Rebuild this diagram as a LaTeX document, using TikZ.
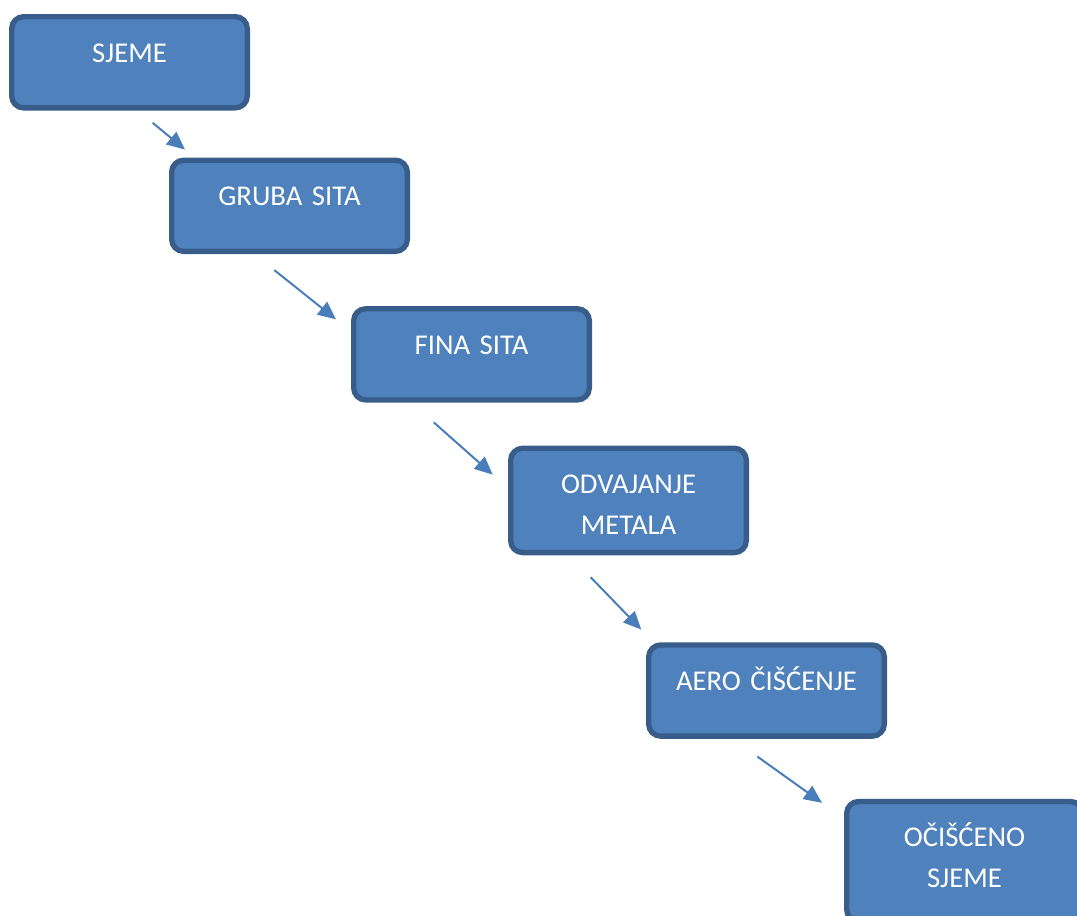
\documentclass[tikz,border=0pt]{standalone}
\usepackage{fontspec}
\setmainfont{Carlito}
\usetikzlibrary{positioning,arrows.meta}
\definecolor{boxfill}{HTML}{4F81BD}
\definecolor{boxline}{HTML}{385D8A}
\definecolor{flowline}{HTML}{4A7EBB}
\tikzstyle{flowarrow} = [line width=1.5pt, draw=flowline, -{Triangle[length=13.5pt,width=12pt]}]

\begin{document}
\begin{tikzpicture}[x=0.75pt, y=-0.75pt, stage/.style={draw=boxline, fill=boxfill, line width=4pt, rounded corners=9pt, text=white, font=\fontsize{21.5}{30.75}\selectfont, align=center, text width=176.75pt, inner sep=0pt, text height=34pt, text depth=34.4pt}]
        \useasboundingbox (0,0) rectangle (1077,915);
        % koraci
        \node[stage, anchor=north west] (sjeme) at (9,14) {SJEME};
        \node[stage, below right=35.25pt and -60.75pt of sjeme] (gruba) {GRUBA SITA};
        \node[stage, below right=39pt and -44.25pt of gruba] (fina) {FINA SITA};
        \node[stage, text depth=44.25pt, below right=32.25pt and -63pt of fina] (metal) {ODVAJANJE\\METALA};
        \node[stage, below right=65.25pt and -77.25pt of metal] (aero) {AERO ČIŠĆENJE};
        \node[stage, text depth=56pt, below right=45pt and -32.25pt of aero] (ocisceno) {OČIŠĆENO\\SJEME};

        % krajevi strelica
        \coordinate (a1s) at ([shift={(143.7,12.3)}]sjeme.south west);
        \coordinate (a1e) at ([shift={(16,-8)}]gruba.north west);
        \coordinate (a2s) at ([shift={(105.3,16)}]gruba.south west);
        \coordinate (a2e) at ([shift={(-15,13.3)}]fina.north west);
        \coordinate (a3s) at ([shift={(82.7,19.7)}]fina.south west);
        \coordinate (a3e) at ([shift={(-15.3,29)}]metal.north west);
        \coordinate (a4s) at ([shift={(82.7,22)}]metal.south west);
        \coordinate (a4e) at ([shift={(-4.7,-12.7)}]aero.north west);
        \coordinate (a5s) at ([shift={(111.3,17.7)}]aero.south west);
        \coordinate (a5e) at ([shift={(-22,4)}]ocisceno.north west);

        % strelice
        \draw[flowarrow] (a1s) -- (a1e);
        \draw[flowarrow] (a2s) -- (a2e);
        \draw[flowarrow] (a3s) -- (a3e);
        \draw[flowarrow] (a4s) -- (a4e);
        \draw[flowarrow] (a5s) -- (a5e);
    \end{tikzpicture}
\end{document}
